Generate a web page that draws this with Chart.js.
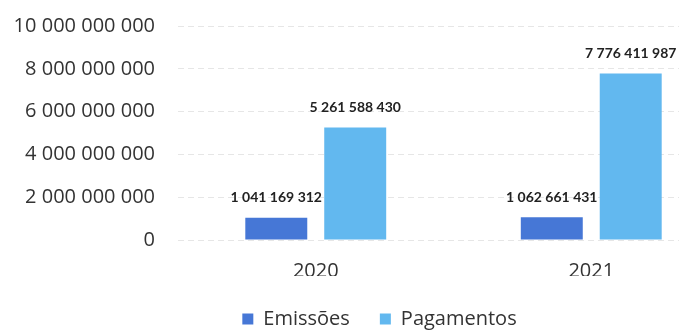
<!DOCTYPE html>
<html>
<head>
<meta charset="utf-8">
<script src="https://cdn.jsdelivr.net/npm/chart.js@4"></script>
<style>
  html, body { margin: 0; padding: 0; background: #fff; overflow: hidden; }
  #wrap { width: 740px; height: 336px; }
</style>
</head>
<body>
<div id="wrap"><canvas id="chart"></canvas></div>
<script>
const years = ['2020', '2021'];
const emissoes = [1041169312, 1062661431];
const pagamentos = [5261588430, 7776411987];
const yTicks = [0, 2000000000, 4000000000, 6000000000, 8000000000, 10000000000];

const fmt = n => String(n).replace(/\B(?=(\d{3})+(?!\d))/g, ' ');

// value labels above each bar
const barValues = {
    id: 'barValues',
    afterDatasetsDraw(chart) {
        const ctx = chart.ctx;
        ctx.save();
        ctx.font = 'bold 14px Lato';
        ctx.fillStyle = '#222';
        ctx.textAlign = 'center';
        ctx.textBaseline = 'middle';
        chart.data.datasets.forEach((ds, i) => {
            chart.getDatasetMeta(i).data.forEach((bar, j) => {
                ctx.fillText(fmt(ds.data[j]), bar.x, bar.y - 20);
            });
        });
        ctx.restore();
    }
};

// move the legend a little right and down
const legendShift = {
    id: 'legendShift',
    afterLayout(chart) {
        const l = chart.legend;
        l.left += 15;
        l.right += 15;
        l.top += 3;
        l.bottom += 3;
    }
};

new Chart(document.getElementById('chart'), {
    type: 'bar',
    data: {
        labels: years,
        datasets: [
            { label: 'Emissões', data: emissoes, backgroundColor: '#4677d6' },
            { label: 'Pagamentos', data: pagamentos, backgroundColor: '#62b8ef' }
        ]
    },
    options: {
        responsive: true,
        maintainAspectRatio: false,
        animation: false,
        categoryPercentage: 0.573,
        barPercentage: 0.785,
        layout: { padding: { top: 26, right: 11, left: 0, bottom: 0 } },
        plugins: {
            tooltip: { enabled: false },
            legend: {
                position: 'bottom',
                labels: {
                    boxWidth: 11,
                    boxHeight: 11,
                    padding: 30,
                    color: '#333',
                    font: { family: 'Open Sans', size: 20 }
                }
            }
        },
        scales: {
            x: {
                clip: false,
                grid: { display: false, drawTicks: false },
                border: { display: false },
                ticks: { color: '#333', padding: 19, font: { family: 'Open Sans', size: 20 } },
                afterFit(scale) { scale.height = 36; }
            },
            y: {
                min: 0,
                max: 10000000000,
                afterBuildTicks(scale) { scale.ticks = yTicks.map(v => ({ value: v })); },
                afterFit(scale) { scale.width = 178; scale.paddingTop = 0; },
                grid: { color: '#e6e6e6', drawTicks: false },
                border: { display: false, dash: [6, 4] },
                ticks: {
                    color: '#333',
                    padding: 23,
                    font: { family: 'Open Sans', size: 20 },
                    callback: v => fmt(v)
                }
            }
        }
    },
    plugins: [barValues, legendShift]
});
</script>
</body>
</html>
